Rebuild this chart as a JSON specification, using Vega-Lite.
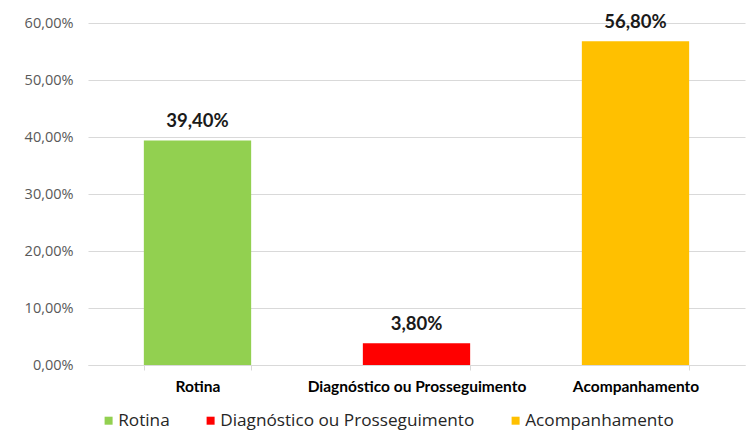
{
  "$schema": "https://vega.github.io/schema/vega-lite/v6.json",
  "width": 657,
  "height": 342,
  "autosize": {"type": "none"},
  "padding": {"left": 88, "top": 23, "right": 8, "bottom": 71},
  "background": "white",
  "config": {
    "view": {"stroke": null},
    "font": "Lato",
    "locale": {
      "number": {
        "decimal": ",",
        "thousands": ".",
        "grouping": [3],
        "currency": ["R$", ""]
      }
    }
  },
  "data": {
    "values": [
      {"categoria": "Rotina", "percentual": 0.394},
      {"categoria": "Diagnóstico ou Prosseguimento", "percentual": 0.038},
      {"categoria": "Acompanhamento", "percentual": 0.568}
    ]
  },
  "encoding": {
    "x": {
      "field": "categoria",
      "type": "nominal",
      "sort": null,
      "scale": {"paddingInner": 0.51, "paddingOuter": 0.255},
      "axis": {
        "title": null,
        "labelAngle": 0,
        "labelFont": "Lato",
        "labelFontWeight": "bold",
        "labelFontSize": 15.5,
        "labelColor": "#000000",
        "labelLimit": 400,
        "labelPadding": 9,
        "domainColor": "#d9d9d9",
        "domainWidth": 1.2,
        "tickColor": "#d9d9d9",
        "tickBand": "extent",
        "tickSize": 5
      }
    },
    "y": {
      "field": "percentual",
      "type": "quantitative",
      "scale": {"domain": [0, 0.6], "nice": false},
      "axis": {
        "title": null,
        "values": [0, 0.1, 0.2, 0.3, 0.4, 0.5, 0.6],
        "format": ".2%",
        "labelFont": "Open Sans",
        "labelFontSize": 14.5,
        "labelColor": "#595959",
        "labelPadding": 15,
        "domain": false,
        "ticks": false,
        "gridColor": "#d9d9d9",
        "gridWidth": 1.2
      }
    }
  },
  "layer": [
    {
      "mark": {"type": "bar"},
      "encoding": {
        "color": {
          "field": "categoria",
          "type": "nominal",
          "sort": null,
          "scale": {
            "domain": ["Rotina", "Diagnóstico ou Prosseguimento", "Acompanhamento"],
            "range": ["#92d050", "#ff0000", "#ffc000"]
          },
          "legend": {
            "title": null,
            "orient": "none",
            "legendX": 12,
            "legendY": 389,
            "direction": "horizontal",
            "symbolType": "square",
            "symbolSize": 64,
            "symbolStrokeWidth": 0,
            "labelFont": "Open Sans",
            "labelFontSize": 17.2,
            "labelColor": "#262626",
            "labelLimit": 400,
            "labelOffset": 1,
            "columnPadding": 32
          }
        }
      }
    },
    {
      "mark": {
        "type": "text",
        "dy": -19,
        "font": "Lato",
        "fontWeight": "bold",
        "fontSize": 18.5,
        "color": "#1a1a1a"
      },
      "encoding": {
        "text": {"field": "percentual", "type": "quantitative", "format": ".2%"}
      }
    }
  ]
}
